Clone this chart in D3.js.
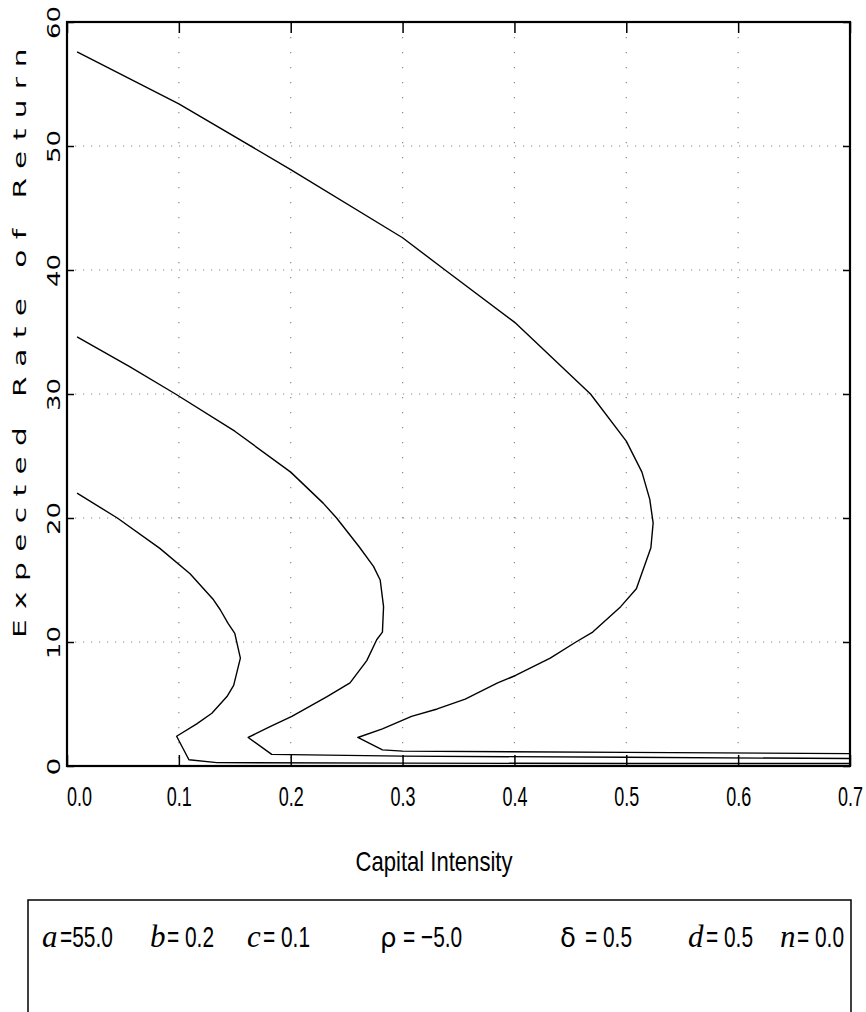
<!DOCTYPE html>
<html>
<head>
<meta charset="utf-8">
<script src="https://cdn.jsdelivr.net/npm/d3@7"></script>
<style>
  html, body { margin: 0; padding: 0; background: #fff; }
  svg { display: block; }
</style>
</head>
<body>
<div id="chart"></div>
<script>
// [capital intensity, expected rate of return]
const curveLow = [[0.009, 22.0], [0.045, 20.0], [0.083, 17.55], [0.11, 15.5], [0.131, 13.4], [0.137, 12.6],
  [0.144, 11.5], [0.150, 10.7], [0.155, 8.7], [0.149, 6.5], [0.143, 5.6], [0.1295, 4.25], [0.116, 3.4],
  [0.098, 2.4], [0.109, 0.5], [0.134, 0.27], [0.3, 0.23], [0.5, 0.2], [0.7, 0.2]];
const curveMid = [[0.009, 34.6], [0.056, 32.2], [0.097, 30.0], [0.15, 27.0], [0.2, 23.7], [0.229, 21.2],
  [0.241, 20.0], [0.261, 17.7], [0.274, 16.1], [0.280, 15.0], [0.283, 12.85], [0.282, 10.8], [0.277, 10.2],
  [0.268, 8.5], [0.253, 6.7], [0.2325, 5.6], [0.201, 4.0], [0.182, 3.2], [0.162, 2.3], [0.183, 0.94],
  [0.3, 0.8], [0.5, 0.7], [0.7, 0.6]];
const curveHigh = [[0.009, 57.6], [0.1, 53.4], [0.2, 48.1], [0.3, 42.6], [0.338, 40.0], [0.4, 35.8],
  [0.468, 30.0], [0.5, 26.2], [0.514, 23.7], [0.521, 21.5], [0.524, 19.6], [0.522, 17.6], [0.509, 14.3],
  [0.495, 12.85], [0.470, 10.8], [0.455, 10.0], [0.432, 8.7], [0.401, 7.3], [0.385, 6.7], [0.356, 5.4],
  [0.331, 4.6], [0.308, 4.0], [0.282, 3.0], [0.260, 2.3], [0.282, 1.3], [0.3, 1.2], [0.5, 1.1], [0.7, 1.0]];

const xTicks = [0, 0.1, 0.2, 0.3, 0.4, 0.5, 0.6, 0.7];
const yTicks = [0, 10, 20, 30, 40, 50, 60];

const xLabel = 'Capital Intensity';
const yLabel = 'Expected Rate of Return';

const legendNames = ['a', 'b', 'c', 'ρ', 'δ', 'd', 'n'];
const legendValues = ['=55.0', '= 0.2', '= 0.1', '= −5.0', '= 0.5', '= 0.5', '= 0.0'];

// layout
const W = 866, H = 1012;
const plot = { left: 67, right: 850, top: 22, bottom: 766 };
const legendNameX = [42, 150, 247, 380, 560, 688, 780];
const legendValX = [60, 167, 263, 403, 585, 706, 797];
const greek = new Set(['ρ', 'δ']);

const svg = d3.select('#chart').append('svg')
  .attr('width', W).attr('height', H)
  .attr('viewBox', `0 0 ${W} ${H}`);

const x = d3.scaleLinear().domain([0, 0.7]).range([plot.left, plot.right]);
const y = d3.scaleLinear().domain([0, 60]).range([plot.bottom, plot.top]);

// dotted grid
const grid = svg.append('g').attr('stroke', '#8a8a8a').attr('stroke-width', 1.2);
grid.selectAll('.vg').data(xTicks.slice(1, -1)).join('line')
  .attr('x1', d => x(d)).attr('x2', d => x(d))
  .attr('y1', plot.top).attr('y2', plot.bottom)
  .attr('stroke-dasharray', '1.2 13.8');
grid.selectAll('.hg').data(yTicks.slice(1, -1)).join('line')
  .attr('y1', d => y(d)).attr('y2', d => y(d))
  .attr('x1', plot.left).attr('x2', plot.right)
  .attr('stroke-dasharray', '1.2 6.8');

// curves
const line = d3.line().x(d => x(d[0])).y(d => y(d[1]));
svg.append('g').selectAll('path').data([curveLow, curveMid, curveHigh]).join('path')
  .attr('d', line)
  .attr('fill', 'none').attr('stroke', '#000').attr('stroke-width', 1.4)
  .attr('stroke-linejoin', 'round');

// axes, ticks pointing inward
const xAxis = svg.append('g').attr('transform', `translate(0,${plot.bottom})`)
  .call(d3.axisBottom(x).tickValues(xTicks).tickSize(-11).tickFormat(d3.format('.1f')));
xAxis.select('.domain').remove();
xAxis.selectAll('.tick line').attr('stroke-width', 1.5);
xAxis.selectAll('.tick text')
  .attr('y', 40).attr('dy', 0)
  .attr('dx', (d, i) => i === 0 ? 12 : 0)
  .attr('font-family', '"Liberation Sans", Arial, sans-serif')
  .attr('font-size', 27).attr('fill', '#000')
  .attr('textLength', 25).attr('lengthAdjust', 'spacingAndGlyphs');

svg.append('g').attr('transform', `translate(0,${plot.top})`)
  .call(d3.axisTop(x).tickValues(xTicks).tickSize(-11).tickFormat(''))
  .call(g => g.select('.domain').remove())
  .selectAll('.tick line').attr('stroke-width', 1.5);

const yAxis = svg.append('g').attr('transform', `translate(${plot.left},0)`)
  .call(d3.axisLeft(y).tickValues(yTicks).tickSize(-7));
yAxis.select('.domain').remove();
yAxis.selectAll('.tick line').attr('stroke-width', 1.5);
yAxis.selectAll('.tick text')
  .attr('transform', 'rotate(-90)')
  .attr('x', 0).attr('y', -7).attr('dy', 0)
  .attr('text-anchor', 'middle')
  .attr('font-family', '"DejaVu Sans", sans-serif')
  .attr('font-size', 18).attr('fill', '#000')
  .attr('textLength', d => String(d).length * 15 + 3)
  .attr('lengthAdjust', 'spacingAndGlyphs');

svg.append('g').attr('transform', `translate(${plot.right},0)`)
  .call(d3.axisRight(y).tickValues(yTicks).tickSize(-7).tickFormat(''))
  .call(g => g.select('.domain').remove())
  .selectAll('.tick line').attr('stroke-width', 1.5);

// frame
svg.append('rect')
  .attr('x', plot.left).attr('y', plot.top)
  .attr('width', plot.right - plot.left).attr('height', plot.bottom - plot.top)
  .attr('fill', 'none').attr('stroke', '#000').attr('stroke-width', 2.2);

// axis titles
svg.append('text')
  .attr('x', 434).attr('y', 871)
  .attr('text-anchor', 'middle')
  .attr('font-family', '"Liberation Sans", Arial, sans-serif')
  .attr('font-size', 28)
  .attr('textLength', 157).attr('lengthAdjust', 'spacingAndGlyphs')
  .text(xLabel);

svg.append('text')
  .attr('transform', 'translate(26,338) rotate(-90)')
  .attr('text-anchor', 'middle')
  .attr('font-family', '"DejaVu Sans", sans-serif')
  .attr('font-size', 17).attr('letter-spacing', 6)
  .attr('textLength', 600).attr('lengthAdjust', 'spacingAndGlyphs')
  .text(yLabel);

// parameter box
svg.append('rect')
  .attr('x', 28).attr('y', 900).attr('width', 823).attr('height', 140)
  .attr('fill', 'none').attr('stroke', '#000').attr('stroke-width', 1.5);

const leg = svg.append('g');
leg.selectAll('.nm').data(legendNames).join('text')
  .attr('x', (d, i) => legendNameX[i]).attr('y', 947)
  .attr('font-family', d => greek.has(d) ? '"DejaVu Sans", sans-serif' : '"Liberation Serif", "Times New Roman", serif')
  .attr('font-style', d => greek.has(d) ? 'normal' : 'italic')
  .attr('font-size', d => greek.has(d) ? 26 : 31)
  .text(d => d);
leg.selectAll('.vl').data(legendValues).join('text')
  .attr('transform', (d, i) => `translate(${legendValX[i]},947) scale(0.72,1)`)
  .attr('font-family', '"Liberation Sans", Arial, sans-serif')
  .attr('font-size', 29)
  .text(d => d);
</script>
</body>
</html>
